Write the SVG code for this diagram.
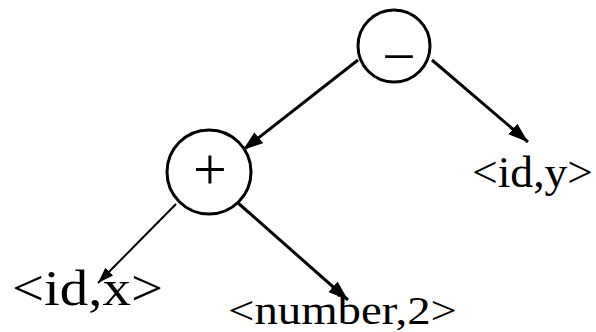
<svg xmlns="http://www.w3.org/2000/svg" width="596" height="332" viewBox="0 0 596 332">
<style>
.node circle{fill:#fff;stroke:#000;stroke-width:3}
.lbl{font-family:"Liberation Serif","Times New Roman",serif;fill:#000}
.edge{fill:none;stroke:#000;stroke-linecap:butt}
</style>
<defs>
<marker id="ah" markerUnits="userSpaceOnUse" markerWidth="22" markerHeight="16" refX="20" refY="7" orient="auto">
<polygon points="0,0 20,7 0,14" fill="#000"/>
</marker>
<marker id="ahs" markerUnits="userSpaceOnUse" markerWidth="18" markerHeight="14" refX="16" refY="5.5" orient="auto">
<polygon points="0,0 16,5.5 0,11" fill="#000"/>
</marker>
</defs>
<rect width="596" height="332" fill="#fff"/>
<g id="connectors">
<path class="edge" d="M358,60 L243,150" stroke-width="3" marker-end="url(#ah)"/>
<path class="edge" d="M432,60 L528,142" stroke-width="3" marker-end="url(#ah)"/>
<path class="edge" d="M176,204 L98,283" stroke-width="2" marker-end="url(#ahs)"/>
<path class="edge" d="M238,203 L348,300" stroke-width="3" marker-end="url(#ah)"/>
</g>
<g id="node-minus" class="node">
<circle cx="394" cy="46" r="36"/>
<text class="lbl" x="399" y="69" font-size="54" text-anchor="middle">–</text>
</g>
<g id="node-plus" class="node">
<circle cx="209" cy="172" r="42"/>
<text class="lbl" x="210" y="189" font-size="60" text-anchor="middle">+</text>
</g>
<g id="node-idy">
<text class="lbl" x="472" y="187" font-size="44" textLength="121" lengthAdjust="spacingAndGlyphs">&lt;id,y&gt;</text>
</g>
<g id="node-idx">
<text class="lbl" x="12" y="305" font-size="51" textLength="151" lengthAdjust="spacingAndGlyphs">&lt;id,x&gt;</text>
</g>
<g id="node-number">
<text class="lbl" x="228" y="324" font-size="41" textLength="229" lengthAdjust="spacingAndGlyphs">&lt;number,2&gt;</text>
</g>
</svg>
